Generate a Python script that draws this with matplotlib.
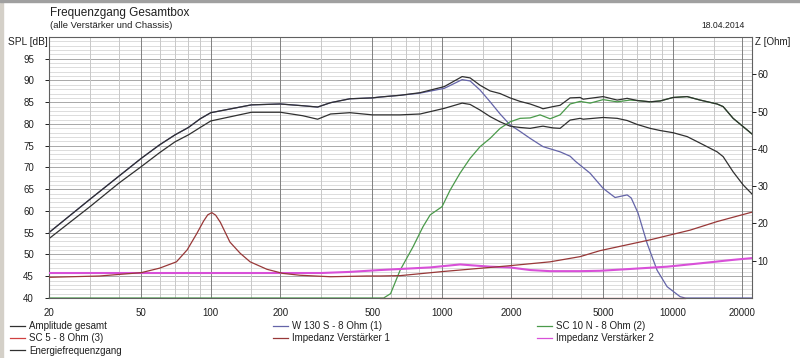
import numpy as np
import matplotlib
matplotlib.use("Agg")
import matplotlib.pyplot as plt
from matplotlib.ticker import FixedLocator, NullFormatter
from matplotlib.lines import Line2D
from matplotlib.patches import Rectangle

plt.rcParams['font.family'] = ['Liberation Sans', 'DejaVu Sans']

# Frequenzachse der beiden Summenkurven (Hz)
f_sum = [20, 30, 40, 50, 60, 70, 80, 90, 100, 150, 200, 250, 290, 330, 400, 500,
         540, 660, 805, 1025, 1224, 1325, 1464, 1618, 1787, 1974, 2180, 2410,
         2660, 2740, 3030, 3250, 3590, 3970, 4090, 4990, 5740, 6340, 7000, 7970,
         8810, 10020, 11530, 13120, 15540, 16500, 18230, 20140, 22000]

# Amplitude gesamt (dB)
amp_gesamt = [55.1, 62.7, 68.0, 72.1, 75.2, 77.5, 79.2, 81.2, 82.6, 84.4, 84.6,
              84.2, 83.9, 84.9, 85.8, 86.0, 86.2, 86.6, 87.2, 88.6, 90.9, 90.6,
              88.9, 87.6, 87.0, 86.0, 85.2, 84.6, 83.8, 83.5, 84.0, 84.3, 86.0,
              86.1, 85.7, 86.3, 85.5, 85.9, 85.4, 85.1, 85.3, 86.1, 86.3, 85.5,
              84.6, 84.0, 81.3, 79.4, 77.7]

# Energiefrequenzgang (dB)
energie = [53.7, 61.0, 66.4, 70.2, 73.4, 75.9, 77.5, 79.2, 80.7, 82.7, 82.7,
           81.9, 81.1, 82.3, 82.6, 82.1, 82.1, 82.1, 82.3, 83.6, 84.8, 84.5,
           83.2, 81.7, 80.5, 79.5, 79.2, 79.0, 79.4, 79.5, 79.1, 79.0, 80.9,
           81.3, 81.1, 81.5, 81.3, 80.8, 79.9, 79.0, 78.5, 78.0, 77.1, 75.6,
           73.6, 72.5, 69.0, 66.0, 63.9]

# W 130 S - 8 Ohm (1)
f_w130 = [20, 30, 40, 50, 60, 70, 80, 90, 100, 150, 200, 250, 290, 330, 400, 500,
          540, 660, 805, 1025, 1224, 1325, 1464, 1618, 1787, 1974, 2180, 2410,
          2740, 3250, 3590, 3790, 4380, 4990, 5620, 6340, 6600, 7070, 7730,
          8540, 9440, 10750, 11300, 22000]
spl_w130 = [55.1, 62.7, 68.0, 72.1, 75.2, 77.5, 79.2, 81.2, 82.6, 84.4, 84.6,
            84.2, 83.9, 84.9, 85.8, 86.0, 86.2, 86.6, 87.1, 88.2, 90.2, 89.9,
            87.8, 85.1, 82.3, 79.8, 78.3, 76.7, 74.8, 73.6, 72.6, 71.4, 68.7,
            65.2, 63.1, 63.7, 63.0, 59.5, 52.6, 46.4, 42.6, 40.3, 40.0, 40.0]

# SC 10 N - 8 Ohm (2)
f_sc10 = [20, 560, 600, 660, 751, 829, 890, 1002, 1086, 1199, 1325, 1464, 1618,
          1787, 1974, 2181, 2410, 2662, 2941, 3249, 3591, 3968, 4383, 4990,
          5736, 6530, 7000, 7970, 8810, 10020, 11530, 13120, 15540, 16500,
          18230, 20140, 22000]
spl_sc10 = [40.0, 40.0, 41.0, 46.4, 51.8, 56.4, 59.1, 61.0, 64.8, 68.7, 72.1,
            74.8, 76.7, 79.0, 80.5, 81.3, 81.4, 82.1, 81.2, 82.1, 84.6, 85.2,
            84.8, 85.6, 85.1, 85.5, 85.4, 85.1, 85.3, 86.1, 86.3, 85.5, 84.6,
            84.0, 81.3, 79.4, 77.7]

# SC 5 - 8 Ohm (3), liegt unterhalb der Skala
f_sc5 = [540, 11300]
spl_sc5 = [40.0, 40.0]

# Impedanz Verstaerker 1 (Ohm)
f_imp1 = [20, 33, 50, 60, 71, 79, 87, 93, 97, 101, 105, 110, 121, 134, 148, 175,
          205, 243, 330, 475, 540, 660, 1010, 1920, 2940, 3970, 4840, 7970,
          11870, 15540, 21600, 22000]
z_imp1 = [5.55, 5.9, 6.8, 8.0, 9.7, 12.9, 17.3, 20.6, 22.3, 22.9, 22.2, 20.3,
          15.0, 12.0, 9.7, 7.7, 6.6, 6.1, 5.7, 5.9, 5.9, 6.0, 7.1, 8.6, 9.7,
          11.1, 12.7, 15.6, 18.2, 20.5, 22.9, 23.0]

# Impedanz Verstaerker 2 (Ohm)
f_imp2 = [20, 300, 400, 540, 890, 1200, 1325, 1620, 1970, 2410, 2940, 3970,
          4840, 6200, 9440, 13120, 18000, 22000]
z_imp2 = [6.7, 6.7, 7.0, 7.5, 8.2, 9.0, 8.8, 8.4, 8.2, 7.5, 7.2, 7.2, 7.3,
          7.7, 8.4, 9.3, 10.2, 10.7]

x_major = [20, 50, 100, 200, 500, 1000, 2000, 5000, 10000, 20000]
x_minor = [30, 40, 60, 70, 80, 90, 150, 300, 400, 600, 700, 800, 900, 1500,
           3000, 4000, 6000, 7000, 8000, 9000, 15000]

fig = plt.figure(figsize=(8, 3.58), dpi=100)
fig.add_artist(Rectangle((0, 0), 3 / 800, 1, transform=fig.transFigure,
                         color='#d4d0c8', zorder=0))
fig.add_artist(Rectangle((0, 1 - 1.5 / 358), 1, 1.5 / 358, transform=fig.transFigure,
                         color='#a0a0a0', zorder=0))

ax = fig.add_axes([49.3 / 800, 1 - 298 / 358, 702.7 / 800, 261 / 358])
ax.set_xscale('log')
ax.set_xlim(20, 22000)
ax.set_ylim(40, 100)

# Raster
for y in range(41, 100):
    ax.axhline(y, color='#a8a8a8' if y % 5 == 0 else '#dcdcdc', lw=0.7, zorder=0)
for x in x_minor:
    ax.axvline(x, color='#c8c8c8', lw=0.7, zorder=0)
for x in x_major:
    ax.axvline(x, color='#808080', lw=0.7, zorder=0)

ax.xaxis.set_major_locator(FixedLocator(x_major))
ax.xaxis.set_minor_locator(FixedLocator([]))
ax.set_xticklabels([str(v) for v in x_major])
ax.xaxis.set_minor_formatter(NullFormatter())
ax.set_yticks(range(40, 100, 5))
ax.tick_params(axis='x', length=0, pad=7, labelsize=7, colors='#202020')
ax.tick_params(axis='y', length=3, width=0.7, pad=8, labelsize=7, colors='#202020')
for s in ax.spines.values():
    s.set_color('#606060')
    s.set_linewidth(0.8)

lw = 0.9
c_amp, c_w130, c_sc10 = '#303030', '#6464a8', '#4a9a4a'
c_sc5, c_imp1, c_imp2 = '#d04040', '#983838', '#d850d8'

ax.plot(f_w130, spl_w130, color=c_w130, lw=lw, clip_on=False)
ax.plot(f_sc10, spl_sc10, color=c_sc10, lw=lw, clip_on=False)
ax.plot(f_sc5, spl_sc5, color=c_sc5, lw=lw, clip_on=False)
ax.plot(f_sum, amp_gesamt, color=c_amp, lw=lw)
ax.plot(f_sum, energie, color=c_amp, lw=lw)

ax2 = ax.twinx()
ax2.set_ylim(0, 70)
ax2.set_yticks(range(10, 70, 10))
ax2.tick_params(axis='y', length=3, width=0.7, pad=1, labelsize=7, colors='#202020')
for s in ax2.spines.values():
    s.set_visible(False)
ax2.plot(f_imp2, z_imp2, color=c_imp2, lw=1.5)
ax2.plot(f_imp1, z_imp1, color=c_imp1, lw=lw)

# Texte
fig.text(50 / 800, 1 - 13 / 358, 'Frequenzgang Gesamtbox', fontsize=8.5,
         va='center', color='#202020')
fig.text(50 / 800, 1 - 25.5 / 358, '(alle Verstärker und Chassis)', fontsize=6.8,
         va='center', color='#202020')
fig.text(745 / 800, 1 - 26 / 358, '18.04.2014', fontsize=6.2, ha='right',
         va='center', color='#202020')
fig.text(47.5 / 800, 1 - 42.3 / 358, 'SPL [dB]', fontsize=7.3, ha='right',
         va='center', color='#202020')
fig.text(755 / 800, 1 - 42.3 / 358, 'Z [Ohm]', fontsize=7, ha='left',
         va='center', color='#202020')


# Legende in drei Spalten
def legende(farben, labels, x):
    handles = [Line2D([], [], color=c, lw=lw) for c in farben]
    lg = fig.legend(handles, labels, loc='upper left',
                    bbox_to_anchor=(x / 800, 1 - 321 / 358),
                    frameon=False, fontsize=7, handlelength=1.5, handletextpad=0.5,
                    labelspacing=0.25, borderpad=0, borderaxespad=0)
    for t in lg.get_texts():
        t.set_color('#202020')
    return lg


legende([c_amp, c_sc5, c_amp], ['Amplitude gesamt', 'SC 5 - 8 Ohm (3)', 'Energiefrequenzgang'], 10)
legende([c_w130, c_imp1], ['W 130 S - 8 Ohm (1)', 'Impedanz Verstärker 1'], 273)
legende([c_sc10, c_imp2], ['SC 10 N - 8 Ohm (2)', 'Impedanz Verstärker 2'], 537)

plt.savefig('out.png', dpi=100)
